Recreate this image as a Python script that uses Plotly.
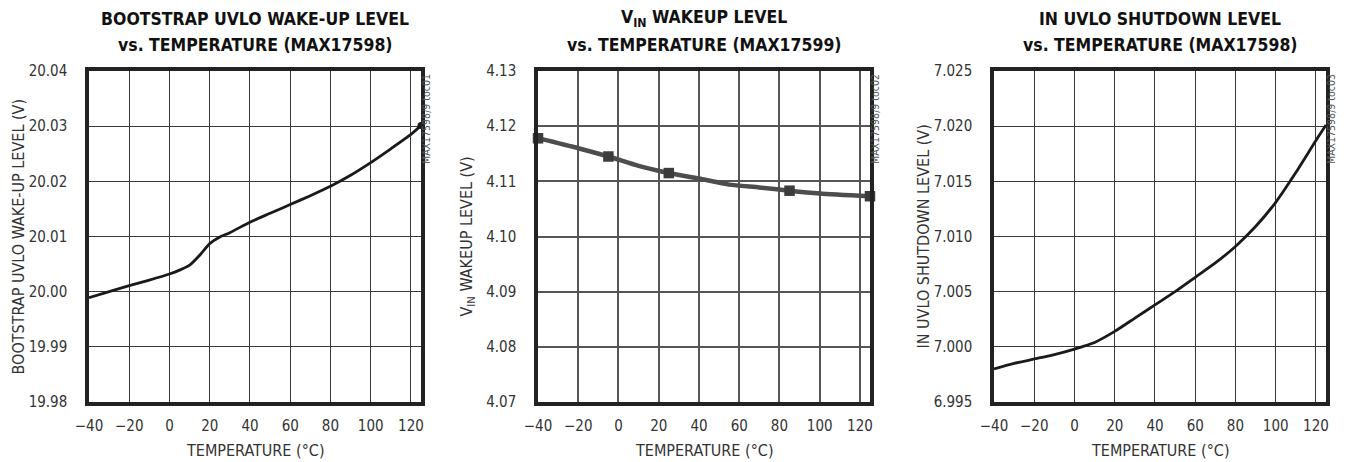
import plotly.graph_objects as go

# ---------------- data ----------------
temp1 = [-40, -30, -20, -10, 0, 5, 10, 15, 20, 25, 30, 40, 50, 60, 70, 80, 90, 100, 110, 120, 125]
boot_uvlo = [19.9989, 20.0000, 20.0011, 20.0021, 20.0032, 20.0039, 20.0048, 20.0066, 20.0087,
             20.0099, 20.0107, 20.0126, 20.0142, 20.0158, 20.0174, 20.0191, 20.0211, 20.0234,
             20.0259, 20.0285, 20.0301]

temp2 = [-40, -20, -5, 10, 25, 40, 55, 70, 85, 100, 125]
vin_wakeup = [4.1178, 4.1160, 4.1145, 4.1128, 4.1115, 4.1105, 4.1094, 4.1089, 4.1083, 4.1078, 4.1073]
temp2_marks = [-40, -5, 25, 85, 125]
vin_wakeup_marks = [4.1178, 4.1145, 4.1115, 4.1083, 4.1073]

temp3 = [-40, -30, -20, -10, 0, 10, 20, 30, 40, 50, 60, 70, 80, 90, 100, 110, 120, 125]
in_uvlo = [6.9980, 6.9985, 6.9989, 6.9993, 6.9998, 7.0004, 7.0014, 7.0026, 7.0038, 7.0050,
           7.0063, 7.0076, 7.0091, 7.0109, 7.0131, 7.0158, 7.0187, 7.0201]

x_ticks = [-40, -20, 0, 20, 40, 60, 80, 100, 120]
y1_ticks = [19.98, 19.99, 20.00, 20.01, 20.02, 20.03, 20.04]
y2_ticks = [4.07, 4.08, 4.09, 4.10, 4.11, 4.12, 4.13]
y3_ticks = [6.995, 7.000, 7.005, 7.010, 7.015, 7.020, 7.025]

titles = [("BOOTSTRAP UVLO WAKE-UP LEVEL", "vs. TEMPERATURE (MAX17598)"),
          ("V<sub>IN</sub> WAKEUP LEVEL", "vs. TEMPERATURE (MAX17599)"),
          ("IN UVLO SHUTDOWN LEVEL", "vs. TEMPERATURE (MAX17598)")]
y_titles = ["BOOTSTRAP UVLO WAKE-UP LEVEL (V)", "V<sub>IN</sub> WAKEUP LEVEL (V)",
            "IN UVLO SHUTDOWN LEVEL (V)"]
x_title = "TEMPERATURE (°C)"
side_tags = ["MAX17598/9 toc01", "MAX17598/9 toc02", "MAX17598/9 toc03"]

# ---------------- layout geometry ----------------
W, H = 1349, 462
FONT = "Liberation Sans Narrow, DejaVu Sans Condensed, Arial Narrow, sans-serif"
plots_px = [(89, 421), (538, 870), (994, 1326)]
top_px, bot_px = 71, 402
ydom = [1 - bot_px / H, 1 - top_px / H]

fig = go.Figure()

fig.add_trace(go.Scatter(x=temp1, y=boot_uvlo, mode="lines", line=dict(color="#1a1a1a", width=2.8, shape="spline", smoothing=0.6),
                         xaxis="x", yaxis="y", showlegend=False))
fig.add_trace(go.Scatter(x=[temp1[-1]], y=[boot_uvlo[-1]], mode="markers", marker=dict(color="#1a1a1a", size=7),
                         xaxis="x", yaxis="y", showlegend=False, cliponaxis=False))
fig.add_trace(go.Scatter(x=temp2, y=vin_wakeup, mode="lines", line=dict(color="#4d4d4d", width=4.5, shape="spline", smoothing=0.6),
                         xaxis="x2", yaxis="y2", showlegend=False))
fig.add_trace(go.Scatter(x=temp2_marks, y=vin_wakeup_marks, mode="markers",
                         marker=dict(color="#3c3c3c", size=10.5, symbol="square"),
                         xaxis="x2", yaxis="y2", showlegend=False, cliponaxis=False))
fig.add_trace(go.Scatter(x=temp3, y=in_uvlo, mode="lines", line=dict(color="#1a1a1a", width=2.8, shape="spline", smoothing=0.6),
                         xaxis="x3", yaxis="y3", showlegend=False))

grid_styles = [("#3a3a3a", 1), ("#555555", 2), ("#3a3a3a", 1)]
yticks_all = [(y1_ticks, ".2f"), (y2_ticks, ".2f"), (y3_ticks, ".3f")]

annotations = []
for i, (x0, x1) in enumerate(plots_px):
    sfx = "" if i == 0 else str(i + 1)
    gc, gw = grid_styles[i]
    yt, fmt = yticks_all[i]
    axis_common = dict(showline=True, mirror=True, linecolor="#222222", linewidth=3.5,
                       showgrid=True, gridcolor=gc, gridwidth=gw, zeroline=False, automargin=False,
                       ticks="", tickfont=dict(family=FONT, size=15, color="#333333"))
    fig.layout["xaxis" + sfx] = dict(domain=[x0 / W, x1 / W], range=[-40, 125], anchor="y" + sfx,
                                     tickvals=x_ticks, ticklabelstandoff=7, **axis_common)
    fig.layout["yaxis" + sfx] = dict(domain=ydom, range=[yt[0], yt[-1]], anchor="x" + sfx,
                                     tickvals=yt, tickformat=fmt, ticklabelstandoff=15, **axis_common)
    cx = (x0 + x1) / 2 / W
    annotations.append(dict(text="<b>" + titles[i][0] + "</b>", x=cx, y=1 - 19 / H, xref="paper", yref="paper",
                            showarrow=False, xanchor="center", yanchor="middle",
                            font=dict(family=FONT, size=17.5, color="#111111")))
    annotations.append(dict(text="<b>" + titles[i][1] + "</b>", x=cx, y=1 - 45 / H, xref="paper", yref="paper",
                            showarrow=False, xanchor="center", yanchor="middle",
                            font=dict(family=FONT, size=17.5, color="#111111")))
    annotations.append(dict(text=x_title, x=cx, y=1 - 450 / H, xref="paper", yref="paper",
                            showarrow=False, xanchor="center", yanchor="middle",
                            font=dict(family=FONT, size=16, color="#333333")))
    annotations.append(dict(text=y_titles[i], x=(x0 - 71) / W, y=(ydom[0] + ydom[1]) / 2, xref="paper", yref="paper",
                            showarrow=False, xanchor="center", yanchor="middle", textangle=-90,
                            font=dict(family=FONT, size=16, color="#333333")))
    annotations.append(dict(text=side_tags[i], x=(x1 + 5) / W, y=1 - 72 / H, xref="paper", yref="paper",
                            showarrow=False, xanchor="center", yanchor="top", textangle=-90,
                            font=dict(family=FONT, size=10.5, color="#555555")))

fig.update_layout(width=W, height=H, margin=dict(l=0, r=0, t=0, b=0),
                  paper_bgcolor="white", plot_bgcolor="white", annotations=annotations,
                  showlegend=False)

fig.write_html("out.html", config={"displayModeBar": False},
               post_script="document.body.style.margin='0';document.body.style.overflow='hidden';")
